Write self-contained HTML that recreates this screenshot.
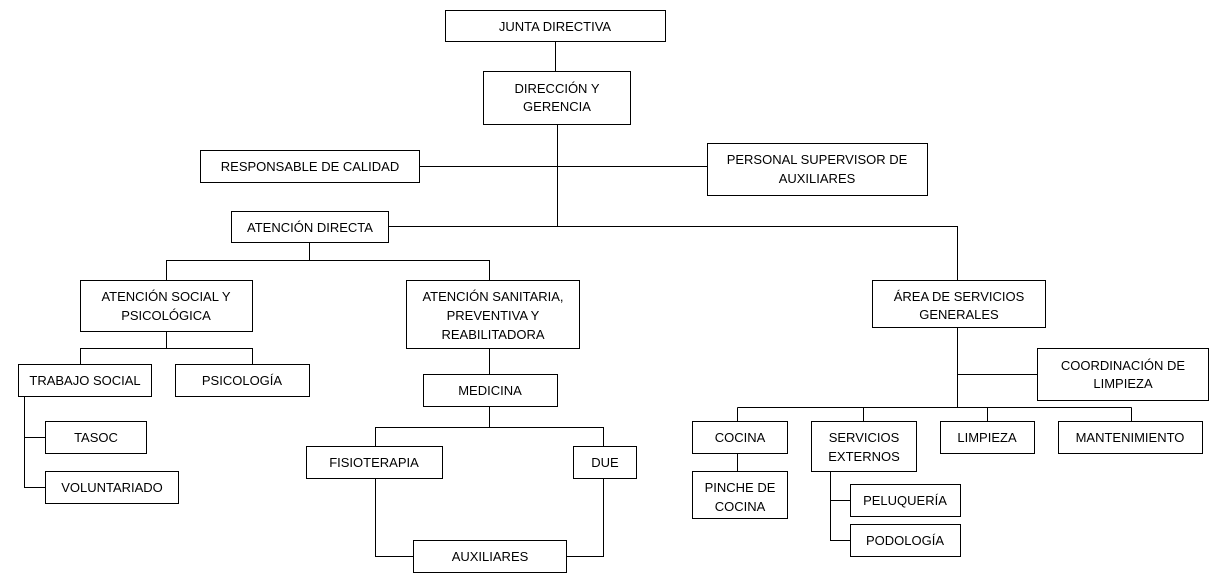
<!DOCTYPE html>
<html><head><meta charset="utf-8"><style>
html,body{margin:0;padding:0;background:#fff;}
svg{display:block;}
text{font-family:"Liberation Sans",sans-serif;font-size:13px;fill:#000;}
rect{fill:#fff;stroke:#000;stroke-width:1;}
line,polyline{stroke:#000;stroke-width:1;fill:none;}
</style></head><body>
<svg width="1225" height="585" viewBox="0 0 1225 585" xmlns="http://www.w3.org/2000/svg" shape-rendering="crispEdges">
<g>
<line x1="555.5" y1="41" x2="555.5" y2="71"/>
<line x1="557.5" y1="124" x2="557.5" y2="226.5"/>
<line x1="419" y1="166.5" x2="707" y2="166.5"/>
<polyline points="388,226.5 957.5,226.5 957.5,280"/>
<line x1="309.5" y1="242" x2="309.5" y2="260.5"/>
<polyline points="166.5,280 166.5,260.5 489.5,260.5 489.5,280"/>
<line x1="166.5" y1="331" x2="166.5" y2="348.5"/>
<polyline points="80.5,364 80.5,348.5 252.5,348.5 252.5,364"/>
<polyline points="24.5,396 24.5,487.5 45,487.5"/>
<line x1="24.5" y1="437.5" x2="45" y2="437.5"/>
<line x1="489.5" y1="348" x2="489.5" y2="374"/>
<line x1="489.5" y1="406" x2="489.5" y2="427.5"/>
<polyline points="375.5,446 375.5,427.5 603.5,427.5 603.5,446"/>
<polyline points="375.5,478 375.5,556.5 413,556.5"/>
<polyline points="603.5,478 603.5,556.5 566,556.5"/>
<line x1="957.5" y1="327" x2="957.5" y2="407.5"/>
<line x1="957.5" y1="374.5" x2="1037" y2="374.5"/>
<line x1="737.5" y1="407.5" x2="1131.5" y2="407.5"/>
<line x1="737.5" y1="407.5" x2="737.5" y2="421"/>
<line x1="863.5" y1="407.5" x2="863.5" y2="421"/>
<line x1="987.5" y1="407.5" x2="987.5" y2="421"/>
<line x1="1131.5" y1="407.5" x2="1131.5" y2="421"/>
<line x1="737.5" y1="453" x2="737.5" y2="471"/>
<polyline points="830.5,471 830.5,540.5 850,540.5"/>
<line x1="830.5" y1="500.5" x2="850" y2="500.5"/>
</g>
<g text-anchor="middle">
<rect x="445.5" y="10.5" width="220" height="31"/><text x="555" y="31">JUNTA DIRECTIVA</text>
<rect x="483.5" y="71.5" width="147" height="53"/><text x="557" y="93">DIRECCIÓN Y</text><text x="557" y="111">GERENCIA</text>
<rect x="200.5" y="150.5" width="219" height="32"/><text x="310" y="171">RESPONSABLE DE CALIDAD</text>
<rect x="707.5" y="143.5" width="220" height="52"/><text x="817" y="164">PERSONAL SUPERVISOR DE</text><text x="817" y="183">AUXILIARES</text>
<rect x="231.5" y="211.5" width="157" height="31"/><text x="310" y="232">ATENCIÓN DIRECTA</text>
<rect x="80.5" y="280.5" width="172" height="51"/><text x="166" y="301">ATENCIÓN SOCIAL Y</text><text x="166" y="320">PSICOLÓGICA</text>
<rect x="406.5" y="280.5" width="173" height="68"/><text x="493" y="301">ATENCIÓN SANITARIA,</text><text x="493" y="320">PREVENTIVA Y</text><text x="493" y="339">REABILITADORA</text>
<rect x="872.5" y="280.5" width="173" height="47"/><text x="959" y="301">ÁREA DE SERVICIOS</text><text x="959" y="319">GENERALES</text>
<rect x="18.5" y="364.5" width="133" height="32"/><text x="85" y="385">TRABAJO SOCIAL</text>
<rect x="175.5" y="364.5" width="134" height="32"/><text x="242" y="385">PSICOLOGÍA</text>
<rect x="423.5" y="374.5" width="134" height="32"/><text x="490" y="395">MEDICINA</text>
<rect x="1037.5" y="348.5" width="171" height="52"/><text x="1123" y="370">COORDINACIÓN DE</text><text x="1123" y="388">LIMPIEZA</text>
<rect x="45.5" y="421.5" width="101" height="32"/><text x="96" y="442">TASOC</text>
<rect x="45.5" y="471.5" width="133" height="32"/><text x="112" y="492">VOLUNTARIADO</text>
<rect x="692.5" y="421.5" width="95" height="32"/><text x="740" y="442">COCINA</text>
<rect x="811.5" y="421.5" width="105" height="50"/><text x="864" y="442">SERVICIOS</text><text x="864" y="461">EXTERNOS</text>
<rect x="940.5" y="421.5" width="94" height="32"/><text x="987" y="442">LIMPIEZA</text>
<rect x="1058.5" y="421.5" width="144" height="32"/><text x="1130" y="442">MANTENIMIENTO</text>
<rect x="306.5" y="446.5" width="136" height="32"/><text x="374" y="467">FISIOTERAPIA</text>
<rect x="573.5" y="446.5" width="63" height="32"/><text x="605" y="467">DUE</text>
<rect x="692.5" y="471.5" width="95" height="47"/><text x="740" y="492">PINCHE DE</text><text x="740" y="511">COCINA</text>
<rect x="850.5" y="484.5" width="110" height="32"/><text x="905" y="505">PELUQUERÍA</text>
<rect x="850.5" y="524.5" width="110" height="32"/><text x="905" y="545">PODOLOGÍA</text>
<rect x="413.5" y="540.5" width="153" height="32"/><text x="490" y="561">AUXILIARES</text>
</g>
</svg>
</body></html>
